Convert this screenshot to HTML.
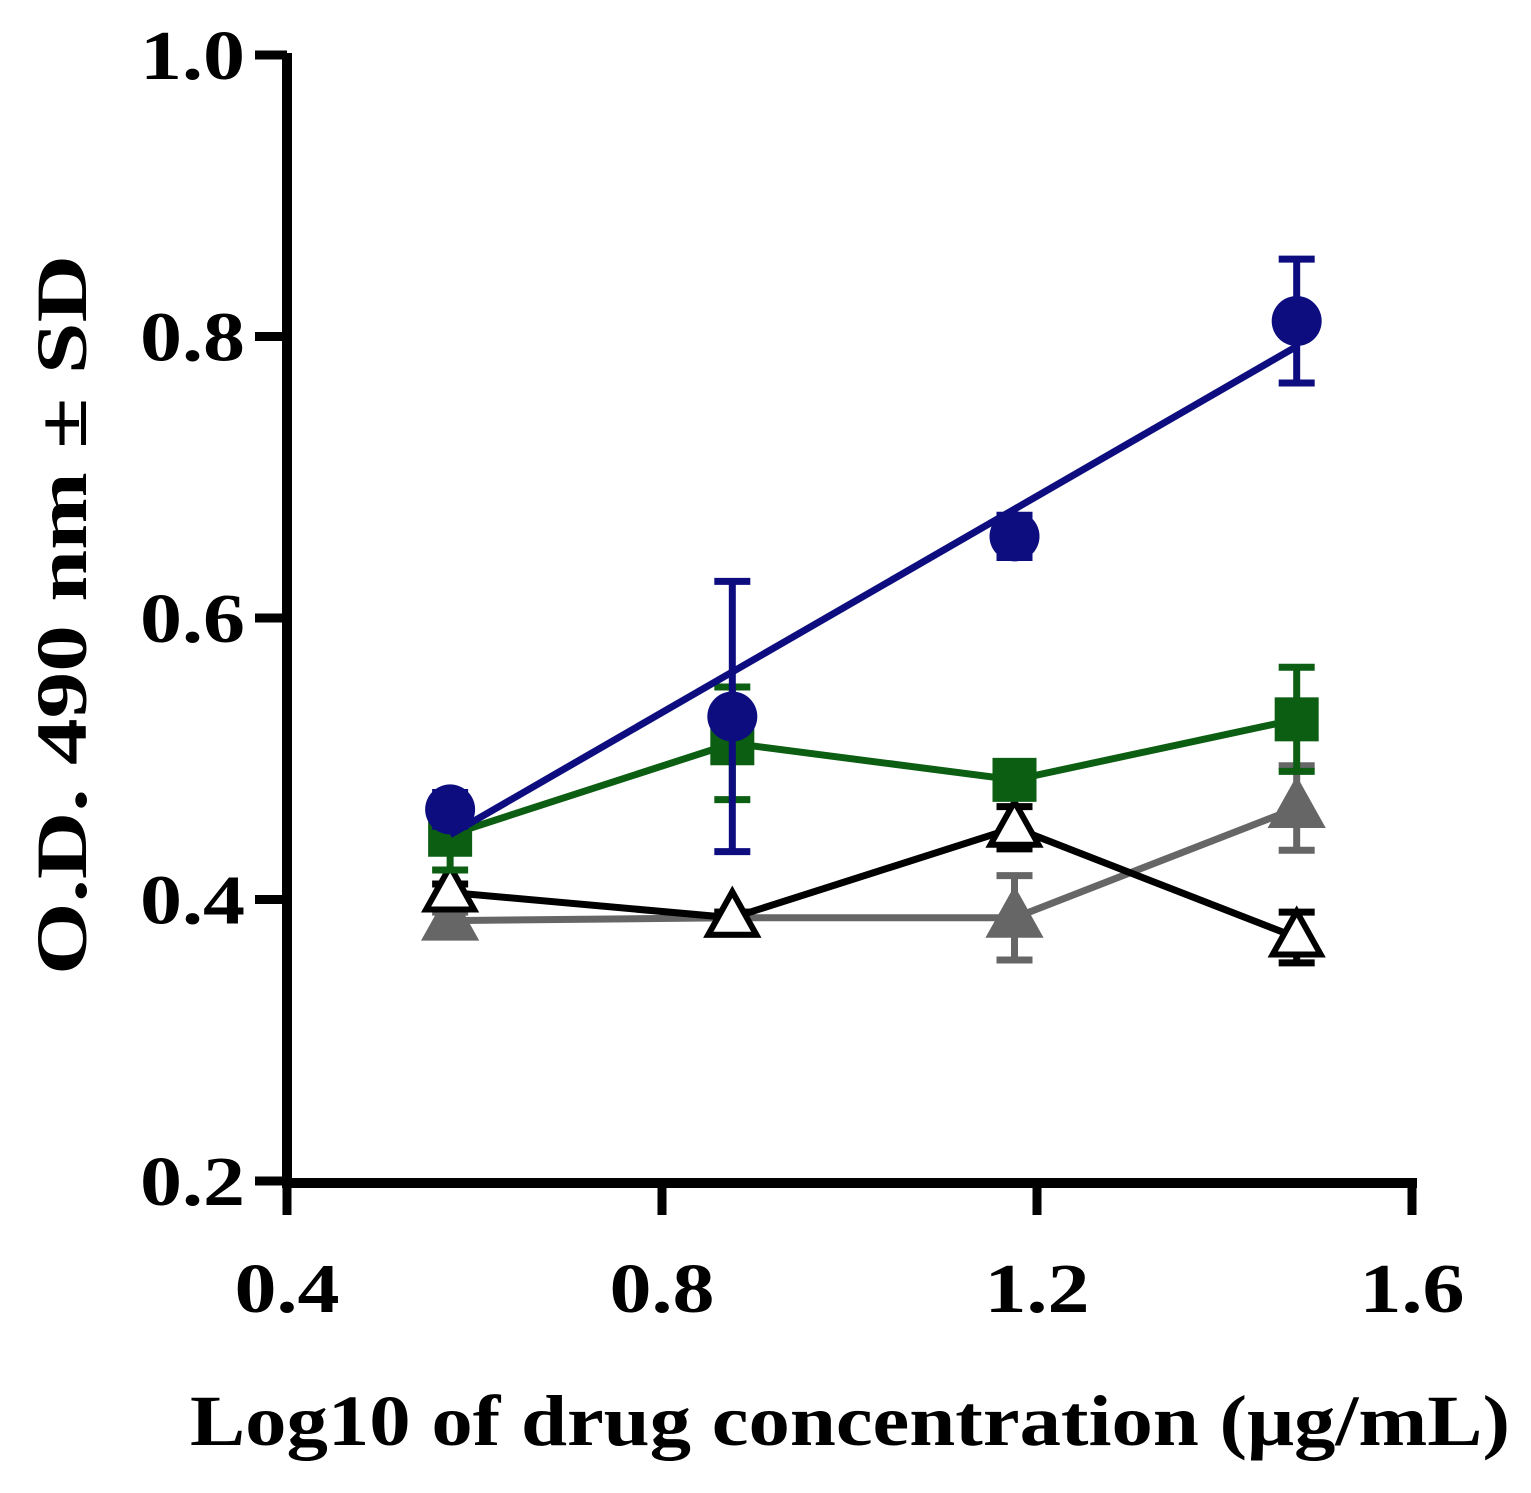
<!DOCTYPE html>
<html><head><meta charset="utf-8"><style>
body{margin:0;background:#fff;}
svg text{font-family:"Liberation Serif",serif;font-weight:bold;fill:#000;}
</style></head><body>
<svg id="chart" width="1531" height="1488" viewBox="0 0 1531 1488">
<g id="axes"></g>
<g id="series"></g>
<text x="850" y="1445" font-size="72" text-anchor="middle" textLength="1320" lengthAdjust="spacingAndGlyphs">Log10 of drug concentration (μg/mL)</text>
<text transform="translate(86,615) rotate(-90)" font-size="72" text-anchor="middle" textLength="720" lengthAdjust="spacingAndGlyphs">O.D. 490 nm ± SD</text>
</svg>
<script>
const xVals=[0.574,0.875,1.176,1.477];
const blueMean=[0.464,0.530,0.658,0.811];
const blueSD=[0.012,0.096,0.015,0.044];
const blueFit=[0.446,0.793];
const greenMean=[0.446,0.511,0.485,0.528];
const greenSD=[0.025,0.040,0.008,0.037];
const grayMean=[0.385,0.387,0.387,0.465];
const graySD=[0.006,0.004,0.030,0.030];
const blackMean=[0.405,0.387,0.451,0.373];
const blackSD=[0.006,0.004,0.015,0.018];
const xTicks=[0.4,0.8,1.2,1.6];
const yTicks=[0.2,0.4,0.6,0.8,1.0];
const NS='http://www.w3.org/2000/svg';
const X=v=>287+(v-0.4)*937.5;
const Y=v=>1181-(v-0.2)*1407.5;
function mk(tag,at,parent){const e=document.createElementNS(NS,tag);for(const k in at)e.setAttribute(k,at[k]);parent.appendChild(e);return e;}
const ax=document.getElementById('axes');const sg=document.getElementById('series');
let l=mk('line',{x1:287,y1:Y(1.0)-2,x2:287,y2:1185,stroke:'#000','stroke-width':10},ax);


l=mk('line',{x1:282,y1:1183,x2:X(1.6)+5,y2:1183,stroke:'#000','stroke-width':10},ax);


yTicks.forEach(t=>{const y=Y(t);
 let tk=mk('line',{x1:255,y1:y,x2:287,y2:y,stroke:'#000','stroke-width':9},ax);
 
 
 let tx=mk('text',{x:245,y:y+24,'font-size':70,'text-anchor':'end',textLength:105,lengthAdjust:'spacingAndGlyphs'},ax);tx.textContent=t.toFixed(1);
 
 
});
xTicks.forEach(t=>{const x=X(t);
 let tk=mk('line',{x1:x,y1:1183,x2:x,y2:1215,stroke:'#000','stroke-width':9},ax);
 
 
 let tx=mk('text',{x:x,y:1312,'font-size':70,'text-anchor':'middle',textLength:105,lengthAdjust:'spacingAndGlyphs'},ax);tx.textContent=t.toFixed(1);
 
 
});
function err(mean,sd,color,name){mean.forEach((m,i)=>{const x=X(xVals[i]);const g=mk('g',{stroke:color,'stroke-width':7},sg);
 
 
 mk('line',{x1:x,y1:Y(m+sd[i]),x2:x,y2:Y(m-sd[i])},g);
 mk('line',{x1:x-18,y1:Y(m+sd[i]),x2:x+18,y2:Y(m+sd[i])},g);
 mk('line',{x1:x-18,y1:Y(m-sd[i]),x2:x+18,y2:Y(m-sd[i])},g);});}
function poly(mean,color,name){const p=mk('polyline',{points:mean.map((m,i)=>X(xVals[i])+','+Y(m)).join(' '),fill:'none',stroke:color,'stroke-width':7},sg);
 
 }
function tri(x,y,fill,stroke){return mk('polygon',{points:`${x},${y-26} ${x-24},${y+17} ${x+24},${y+17}`,fill:fill,stroke:stroke,'stroke-width':6},sg);}
err(grayMean,graySD,'#666','gray');poly(grayMean,'#666','gray');
grayMean.forEach((m,i)=>{const t=tri(X(xVals[i]),Y(m),'#666','#666');
 
 });
err(blackMean,blackSD,'#000','black');poly(blackMean,'#000','black');
blackMean.forEach((m,i)=>{const t=tri(X(xVals[i]),Y(m),'#fff','#000');
 
 });
err(greenMean,greenSD,'#0b5e12','green');poly(greenMean,'#0b5e12','green');
greenMean.forEach((m,i)=>{const r=mk('rect',{x:X(xVals[i])-22,y:Y(m)-22,width:44,height:44,fill:'#0b5e12'},sg);
 
 });
err(blueMean,blueSD,'#0d0d80','blue');
const fl=mk('line',{x1:X(xVals[0]),y1:Y(blueFit[0]),x2:X(xVals[3]),y2:Y(blueFit[1]),stroke:'#0d0d80','stroke-width':7},sg);


blueMean.forEach((m,i)=>{const c=mk('circle',{cx:X(xVals[i]),cy:Y(m),r:25,fill:'#0d0d80'},sg);
 
 });
</script>
</body></html>
